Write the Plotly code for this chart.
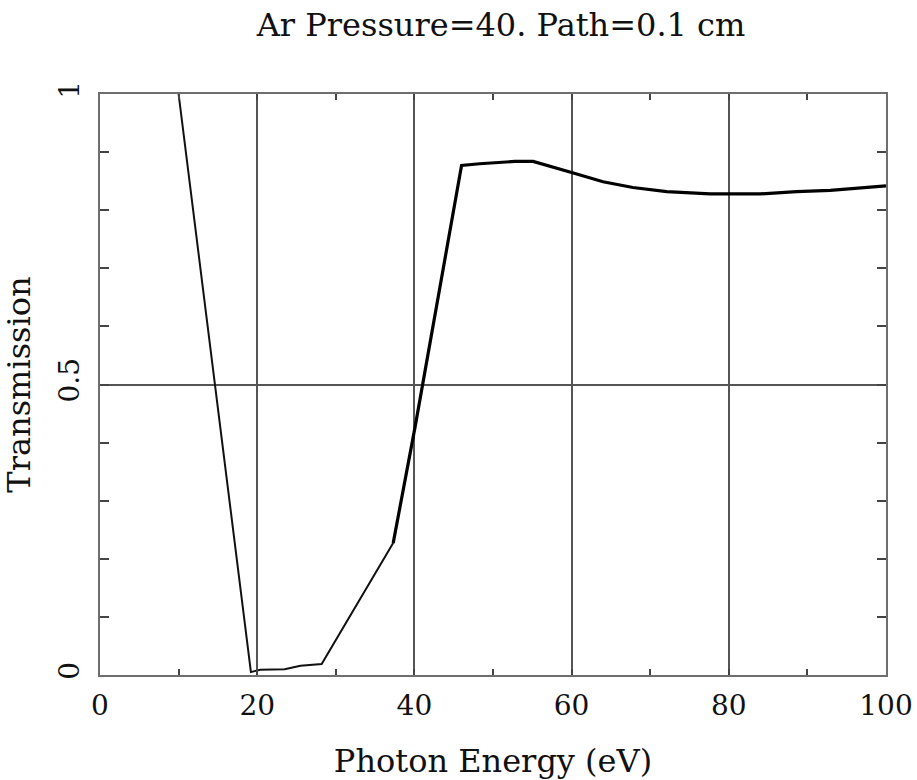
import plotly.graph_objects as go

# Thin (low-energy) part of the transmission curve
energy_low = [10, 19.2, 20.4, 23.5, 25.5, 28.2, 37.3]
trans_low = [1.0, 0.005, 0.009, 0.010, 0.016, 0.019, 0.227]

# Thick (high-energy) part of the transmission curve
energy_high = [37.3, 40.1, 46.0, 48.3, 52.8, 55.1, 60.0, 64.0, 67.8, 72.1, 77.6, 84.0, 88.6, 92.9, 100.0]
trans_high = [0.227, 0.428, 0.877, 0.880, 0.884, 0.884, 0.865, 0.849, 0.839, 0.832, 0.828, 0.828, 0.832, 0.834, 0.842]

x_ticks = [0, 20, 40, 60, 80, 100]
y_ticks = [0, 0.5, 1]
y_tick_text = ["0", "0.5", "1"]

FONT = "DejaVu Serif"
FRAME = "#6e6e6e"
GRID = "#555555"

fig = go.Figure()
fig.add_trace(go.Scatter(x=energy_low, y=trans_low, mode="lines",
                         line=dict(color="#111111", width=2), showlegend=False))
fig.add_trace(go.Scatter(x=energy_high, y=trans_high, mode="lines",
                         line=dict(color="#000000", width=3.2), showlegend=False))

fig.update_layout(
    width=917, height=780,
    margin=dict(l=100, r=31, t=94, b=105, autoexpand=False),
    paper_bgcolor="white", plot_bgcolor="white",
    font=dict(family=FONT, color="#111111"),
    title=dict(text="Ar Pressure=40. Path=0.1 cm", font=dict(family=FONT, size=32, color="#111111"),
               x=501 / 917, xanchor="center", xref="container",
               y=1 - 25 / 780, yanchor="middle", yref="container"),
)

fig.update_xaxes(
    range=[0, 100], tickvals=x_ticks, ticktext=[str(v) for v in x_ticks],
    showgrid=True, gridcolor=GRID, gridwidth=1.5,
    showline=True, linecolor=FRAME, linewidth=2, mirror="ticks",
    ticks="inside", ticklen=0, tickcolor=FRAME,
    tickfont=dict(family=FONT, size=28, color="#111111"),
    ticklabelstandoff=4,
    minor=dict(dtick=10, tick0=0, ticks="inside", ticklen=6, tickwidth=1.5, tickcolor="#444444", showgrid=False),
    zeroline=False,
    title=dict(text="Photon Energy (eV)", font=dict(family=FONT, size=32, color="#111111"), standoff=34),
)

fig.update_yaxes(
    range=[0, 1], tickvals=y_ticks, ticktext=y_tick_text, tickangle=-90,
    showgrid=True, gridcolor=GRID, gridwidth=1.5,
    showline=True, linecolor=FRAME, linewidth=2, mirror="ticks",
    ticks="inside", ticklen=0, tickcolor=FRAME,
    tickfont=dict(family=FONT, size=28, color="#111111"),
    ticklabelstandoff=8,
    minor=dict(dtick=0.1, tick0=0, ticks="inside", ticklen=9, tickwidth=1.5, tickcolor="#444444", showgrid=False),
    zeroline=False,
    title=dict(text="Transmission", font=dict(family=FONT, size=32, color="#111111"), standoff=14),
)

fig.write_html("out.html")
